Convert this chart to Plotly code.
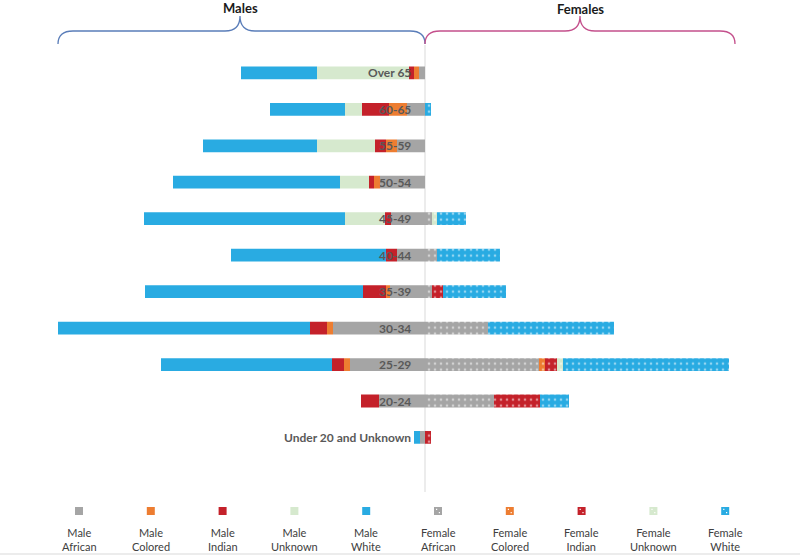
import plotly.graph_objects as go

W, H = 800, 557
OX, OY = 0, 0  # page body margin removed via post_script

age_groups = ["Over 65", "60-65", "55-59", "50-54", "45-49", "40-44",
              "35-39", "30-34", "25-29", "20-24", "Under 20 and Unknown"]

male_african = [6, 18, 28, 45, 34, 28, 35, 92, 75, 46, 5]
male_colored = [5, 18, 11, 6, 0, 0, 4, 6, 6, 0, 0]
male_indian = [5, 27, 11, 5, 6, 11, 23, 17, 12, 18, 0]
male_unknown = [92, 17, 58, 29, 40, 0, 0, 0, 0, 0, 0]
male_white = [76, 75, 114, 167, 201, 155, 218, 252, 171, 0, 6]

female_african = [0, 0, 0, 0, 7, 12, 7, 63, 114, 69, 0]
female_colored = [0, 0, 0, 0, 0, 0, 0, 0, 6, 0, 0]
female_indian = [0, 0, 0, 0, 0, 0, 11, 0, 12, 46, 6]
female_unknown = [0, 0, 0, 0, 5, 0, 0, 0, 6, 0, 0]
female_white = [0, 6, 0, 0, 29, 63, 63, 126, 166, 29, 0]

legend_labels = ["Male<br>African", "Male<br>Colored", "Male<br>Indian", "Male<br>Unknown", "Male<br>White",
                 "Female<br>African", "Female<br>Colored", "Female<br>Indian", "Female<br>Unknown", "Female<br>White"]

C_AFR = "#A5A5A5"
C_COL = "#ED7D31"
C_IND = "#C4212A"
C_UNK = "#D6E9CE"
C_WHI = "#29ABE2"

fig = go.Figure()

male_series = [("Male African", male_african, C_AFR), ("Male Colored", male_colored, C_COL),
               ("Male Indian", male_indian, C_IND), ("Male Unknown", male_unknown, C_UNK),
               ("Male White", male_white, C_WHI)]
female_series = [("Female African", female_african, C_AFR), ("Female Colored", female_colored, C_COL),
                 ("Female Indian", female_indian, C_IND), ("Female Unknown", female_unknown, C_UNK),
                 ("Female White", female_white, C_WHI)]

for name, vals, col in male_series:
    fig.add_trace(go.Bar(y=age_groups, x=[-v for v in vals], orientation="h", name=name,
                         marker=dict(color=col, line=dict(width=0)), showlegend=False))
for name, vals, col in female_series:
    fig.add_trace(go.Bar(y=age_groups, x=vals, orientation="h", name=name,
                         marker=dict(color=col, line=dict(width=0),
                                     pattern=dict(shape=".", fgcolor="white", fillmode="overlay",
                                                  size=6, solidity=0.15)),
                         showlegend=False))


def px(x):
    return (x - OX) / W


def py(y):
    return 1 - (y - OY) / H


shapes = []
annotations = []

# center line
shapes.append(dict(type="line", xref="x", yref="paper", x0=0, x1=0, y0=py(492), y1=py(45),
                   line=dict(color="#D9D9D9", width=1), layer="below"))
# bottom border
shapes.append(dict(type="line", xref="paper", yref="paper", x0=0, x1=1, y0=py(554), y1=py(554),
                   line=dict(color="#D9D9D9", width=1)))


def brace(x0, xm, x1, ybase, yline, ytip, r=15):
    return (f"M {px(x0)},{py(ybase)} Q {px(x0)},{py(yline)} {px(x0 + r)},{py(yline)} "
            f"L {px(xm - r)},{py(yline)} Q {px(xm)},{py(yline)} {px(xm)},{py(ytip)} "
            f"Q {px(xm)},{py(yline)} {px(xm + r)},{py(yline)} "
            f"L {px(x1 - r)},{py(yline)} Q {px(x1)},{py(yline)} {px(x1)},{py(ybase)}")


shapes.append(dict(type="path", xref="paper", yref="paper", path=brace(58, 240, 425, 44, 31, 16),
                   line=dict(color="#5A7DB9", width=1.3)))
shapes.append(dict(type="path", xref="paper", yref="paper", path=brace(425, 580, 735, 44, 31, 16),
                   line=dict(color="#C4508C", width=1.3)))

annotations.append(dict(x=px(240), y=py(8), xref="paper", yref="paper", text="<b>Males</b>",
                        xanchor="center", yanchor="middle",
                        showarrow=False, font=dict(family="Lato", size=13, color="#1a1a1a")))
annotations.append(dict(x=px(580), y=py(9), xref="paper", yref="paper", text="<b>Females</b>",
                        xanchor="center", yanchor="middle",
                        showarrow=False, font=dict(family="Lato", size=13, color="#1a1a1a")))

# category labels at the center
for g in age_groups:
    annotations.append(dict(x=-12, y=g, xref="x", yref="y", text=f"<b>{g}</b>", xanchor="right",
                            yanchor="middle",
                            showarrow=False, font=dict(family="Lato", size=12, color="#595959")))

# custom legend
legend_colors = [C_AFR, C_COL, C_IND, C_UNK, C_WHI] * 2
for i, (lab, col) in enumerate(zip(legend_labels, legend_colors)):
    cx = 79 + i * 71.8
    shapes.append(dict(type="rect", xref="paper", yref="paper", x0=px(cx - 4), x1=px(cx + 4),
                       y0=py(515), y1=py(507), fillcolor=col, line=dict(width=0)))
    if i >= 5:
        shapes.append(dict(type="rect", xref="paper", yref="paper", x0=px(cx - 2), x1=px(cx - 0.8),
                           y0=py(510), y1=py(508.8), fillcolor="white", line=dict(width=0)))
        shapes.append(dict(type="rect", xref="paper", yref="paper", x0=px(cx + 0.8), x1=px(cx + 2),
                           y0=py(513.2), y1=py(512), fillcolor="white", line=dict(width=0)))
    annotations.append(dict(x=px(cx), y=py(539), xref="paper", yref="paper", text=lab,
                            xanchor="center", yanchor="middle",
                            showarrow=False, align="center",
                            font=dict(family="Lato", size=11, color="#404040")))

fig.update_layout(
    width=W, height=H,
    margin=dict(l=0, r=0, t=0, b=0),
    paper_bgcolor="white", plot_bgcolor="white",
    barmode="relative", bargap=0.65,
    shapes=shapes, annotations=annotations,
    xaxis=dict(range=[-(425 - OX), W - (425 - OX)], domain=[0, 1], showgrid=False, zeroline=False,
               showticklabels=False, showline=False, fixedrange=True),
    yaxis=dict(categoryorder="array", categoryarray=age_groups, range=[10.5, -0.5],
               domain=[1 - (455.7 - OY) / H, 1 - (54.6 - OY) / H], showgrid=False, zeroline=False,
               showticklabels=False, showline=False, fixedrange=True),
    showlegend=False,
)

fig.write_html("out.html",
               config={"displayModeBar": False},
               post_script="document.body.style.margin='0';document.body.style.overflow='hidden';")
